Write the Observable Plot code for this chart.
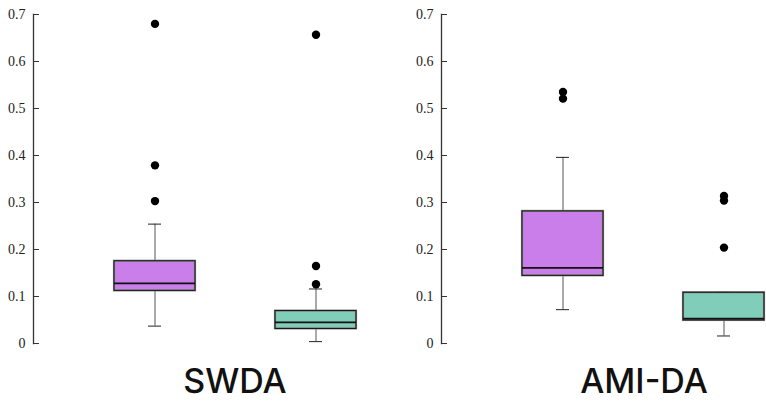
<!DOCTYPE html>
<html>
<head>
<meta charset="utf-8">
<script src="https://cdn.jsdelivr.net/npm/d3@7"></script>
<script src="https://cdn.jsdelivr.net/npm/@observablehq/plot@0.6"></script>
<style>
  html, body { margin: 0; padding: 0; background: #fff; }
  #wrap { position: relative; width: 766px; height: 401px; overflow: hidden; }
  .panel { position: absolute; top: 0; }
  .panel text { font-family: "Liberation Serif", "DejaVu Serif", serif !important; font-size: 14px !important; fill: #222 !important; }
  .title { position: absolute; top: 364px; font-family: Inter, "Noto Sans", sans-serif; font-weight: 500; font-size: 34px; line-height: 1; color: #111; transform: translateX(-50%); white-space: nowrap; }
</style>
</head>
<body>
<div id="wrap"></div>
<script>
// Panels (datasets) and the two compared groups
const panels = ["SWDA", "AMI-DA"];
const groups = ["A", "B"];
const colors = ["#c97ee9", "#80ceb9"];
const yTicks = [0, 0.1, 0.2, 0.3, 0.4, 0.5, 0.6, 0.7];

// Box statistics per panel: [groupA, groupB]
const whiskerLow = { "SWDA": [0.037, 0.004], "AMI-DA": [0.072, 0.016] };
const q1 =         { "SWDA": [0.112, 0.031], "AMI-DA": [0.144, 0.049] };
const median =     { "SWDA": [0.128, 0.045], "AMI-DA": [0.161, 0.053] };
const q3 =         { "SWDA": [0.175, 0.069], "AMI-DA": [0.281, 0.108] };
const whiskerHigh ={ "SWDA": [0.254, 0.116], "AMI-DA": [0.396, 0.109] };
const outliers =   { "SWDA": [[0.680, 0.379, 0.303], [0.657, 0.165, 0.126]],
                     "AMI-DA": [[0.535, 0.521], [0.314, 0.304, 0.204]] };

const wrap = document.getElementById("wrap");
const offsets = [0, 408];
const widths = [408, 358];

panels.forEach((p, pi) => {
  const boxes = groups.map((g, i) => ({
    g, lo: whiskerLow[p][i], q1: q1[p][i], med: median[p][i], q3: q3[p][i], hi: whiskerHigh[p][i]
  }));
  const pts = groups.flatMap((g, i) => outliers[p][i].map(v => ({ g, v })));
  const chart = Plot.plot({
    width: widths[pi],
    height: 350,
    marginTop: 14,
    marginBottom: 7,
    marginLeft: 33,
    marginRight: 0,
    style: { background: "transparent", overflow: "visible" },
    x: { domain: groups, range: [33, 435.5], padding: 0.5, axis: null },
    y: { domain: [0, 0.7], axis: null },
    color: { domain: groups, range: colors },
    marks: [
      Plot.ruleX(boxes, { x: "g", y1: "lo", y2: "q1", stroke: "#555", strokeWidth: 1 }),
      Plot.ruleX(boxes, { x: "g", y1: "q3", y2: "hi", stroke: "#555", strokeWidth: 1 }),
      Plot.tickY(boxes, { x: "g", y: "lo", stroke: "#222", strokeWidth: 1, insetLeft: 34, insetRight: 34 }),
      Plot.tickY(boxes, { x: "g", y: "hi", stroke: "#222", strokeWidth: 1, insetLeft: 34, insetRight: 34 }),
      Plot.barY(boxes, { x: "g", y1: "q1", y2: "q3", fill: "g", stroke: "#888", strokeWidth: 2.2 }),
      Plot.barY(boxes, { x: "g", y1: "q1", y2: "q3", fill: "none", stroke: "#111", strokeWidth: 1 }),
      Plot.tickY(boxes, { x: "g", y: "med", stroke: "#111", strokeWidth: 1.6 }),
      Plot.dot(pts, { x: "g", y: "v", r: 4.2, fill: "#000" }),
      Plot.frame({ anchor: "left", stroke: "#333", strokeWidth: 1.3 }),
      Plot.axisY(yTicks, {
        anchor: "left", tickSize: -6, tickPadding: 14, stroke: "#333",
        tickFormat: d => d === 0 ? "0" : d3.format(".1f")(d)
      })
    ]
  });
  chart.classList.add("panel");
  chart.style.left = offsets[pi] + "px";
  wrap.appendChild(chart);
  const t = document.createElement("div");
  t.className = "title";
  t.textContent = p;
  t.style.left = (pi === 0 ? 235 : 644) + "px";
  wrap.appendChild(t);
});
</script>
</body>
</html>
